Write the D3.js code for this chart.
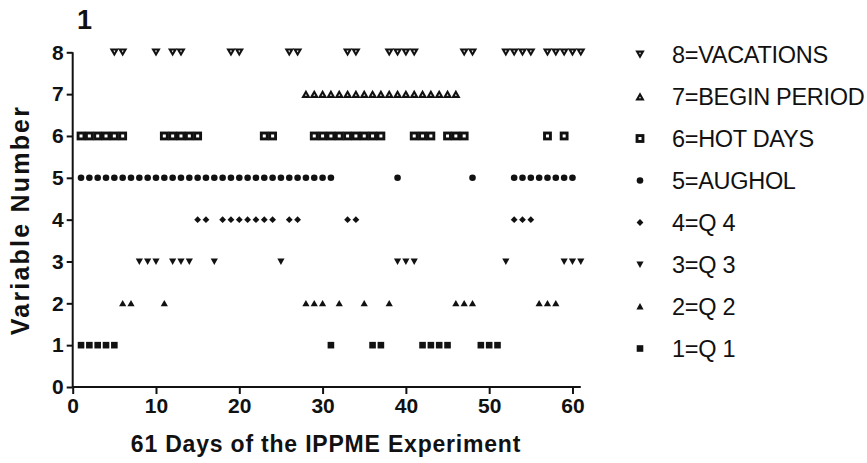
<!DOCTYPE html>
<html><head><meta charset="utf-8">
<script src="https://cdn.jsdelivr.net/npm/d3@7"></script>
<style>body{margin:0;background:#fff}svg{display:block}text{font-family:"Liberation Sans",Arial,sans-serif}</style>
</head><body><svg id="c" width="867" height="463"></svg>
<script>
const xTicks = [0,10,20,30,40,50,60];
const yTicks = [0,1,2,3,4,5,6,7,8];
const seriesNames = ["8=VACATIONS","7=BEGIN PERIOD","6=HOT DAYS","5=AUGHOL","4=Q 4","3=Q 3","2=Q 2","1=Q 1"];
const seriesLevels = [8,7,6,5,4,3,2,1];
const vacationsDays = [5,6,10,12,13,19,20,26,27,33,34,38,39,40,41,47,48,52,53,54,55,57,58,59,60,61];
const beginPeriodDays = [28,29,30,31,32,33,34,35,36,37,38,39,40,41,42,43,44,45,46];
const hotDaysDays = [1,2,3,4,5,6,11,12,13,14,15,23,24,29,30,31,32,33,34,35,36,37,41,42,43,45,46,47,57,59];
const augholDays = [1,2,3,4,5,6,7,8,9,10,11,12,13,14,15,16,17,18,19,20,21,22,23,24,25,26,27,28,29,30,31,39,48,53,54,55,56,57,58,59,60];
const q4Days = [15,16,18,19,20,21,22,23,24,26,27,33,34,53,54,55];
const q3Days = [8,9,10,12,13,14,17,25,39,40,41,52,59,60,61];
const q2Days = [6,7,11,28,29,30,32,35,38,46,47,48,56,57,58];
const q1Days = [1,2,3,4,5,31,36,37,42,43,44,45,49,50,51];
const seriesDays = [vacationsDays,beginPeriodDays,hotDaysDays,augholDays,q4Days,q3Days,q2Days,q1Days];
const symbolKinds = ["bigDown","bigUp","hotSquare","circle","diamond","smallDown","smallUp","square"];

const svg = d3.select("#c");
const x = d3.scaleLinear().domain([0,61]).range([72.7,580.8]);
const y = d3.scaleLinear().domain([0,8]).range([387,52.3]);

function drawSymbol(g, kind){
  if(kind==="bigDown"){
    g.append("path").attr("d","M-4.7,-3.9L4.7,-3.9L0,4.3Z").attr("fill","#111");
    g.append("path").attr("d","M-1,-1.7L1,-1.7L0,0.1Z").attr("fill","#fff");
  } else if(kind==="bigUp"){
    g.append("path").attr("d","M-4.7,3.9L4.7,3.9L0,-4.3Z").attr("fill","#111");
    g.append("path").attr("d","M-1,1.7L1,1.7L0,-0.1Z").attr("fill","#fff");
  } else if(kind==="hotSquare"){
    g.append("rect").attr("x",-4.4).attr("y",-4.4).attr("width",8.8).attr("height",8.8).attr("fill","#111");
    g.append("rect").attr("x",-1.5).attr("y",-1.5).attr("width",3).attr("height",3).attr("fill","#fff");
  } else if(kind==="circle"){
    g.append("circle").attr("r",3.3).attr("fill","#111");
  } else if(kind==="diamond"){
    g.append("path").attr("d","M0,-3.4L3.4,0L0,3.4L-3.4,0Z").attr("fill","#111");
  } else if(kind==="smallDown"){
    g.append("path").attr("d","M-3.6,-3L3.6,-3L0,3.4Z").attr("fill","#111");
  } else if(kind==="smallUp"){
    g.append("path").attr("d","M-3.6,3L3.6,3L0,-3.4Z").attr("fill","#111");
  } else if(kind==="square"){
    g.append("rect").attr("x",-3.3).attr("y",-3.3).attr("width",6.6).attr("height",6.6).attr("fill","#111");
  }
}

// axes
const xAxis = svg.append("g").attr("transform","translate(0,387)")
  .call(d3.axisBottom(x).tickValues(xTicks).tickSize(7).tickPadding(4).tickFormat(d3.format("d")));
const yAxis = svg.append("g").attr("transform","translate(72.7,0)")
  .call(d3.axisLeft(y).tickValues(yTicks).tickSize(6).tickPadding(3).tickFormat(d3.format("d")));
[xAxis,yAxis].forEach(a=>{
  a.select(".domain").attr("stroke","#111").attr("stroke-width",2);
  a.selectAll(".tick line").attr("stroke","#111").attr("stroke-width",2);
  a.selectAll(".tick text").attr("fill","#111").attr("font-size",21).attr("font-weight","bold")
   .style("font-family","'Liberation Sans',Arial,sans-serif");
});
xAxis.select(".domain").attr("d","M"+x(0)+",0H"+x(61));
yAxis.select(".domain").attr("d","M0,"+y(8)+"V"+y(0));

// marks
seriesDays.forEach((days,i)=>{
  const gs = svg.append("g");
  days.forEach(d=>{
    const g = gs.append("g").attr("transform",`translate(${x(d)},${y(seriesLevels[i])})`);
    drawSymbol(g, symbolKinds[i]);
  });
});

// legend
const legendY = d3.scaleLinear().domain([0,7]).range([54.5,348.5]);
seriesNames.forEach((n,i)=>{
  const g = svg.append("g").attr("transform",`translate(640,${legendY(i)})`);
  drawSymbol(g, symbolKinds[i]);
  svg.append("text").attr("x",672).attr("y",legendY(i)+8.5).attr("font-size",23.5)
    .attr("letter-spacing","-0.3").attr("fill","#111").text(n);
});

// titles
svg.append("text").attr("x",77).attr("y",29).attr("font-size",27).attr("font-weight","bold").attr("fill","#111").text("1");
svg.append("text").attr("x",326).attr("y",452).attr("text-anchor","middle").attr("font-size",23).attr("letter-spacing","0.8").attr("font-weight","bold").attr("fill","#111").text("61 Days of the IPPME Experiment");
svg.append("text").attr("transform","translate(29,220) rotate(-90)").attr("text-anchor","middle").attr("font-size",25).attr("letter-spacing","2.2").attr("font-weight","bold").attr("fill","#111").text("Variable Number");
</script></body></html>
